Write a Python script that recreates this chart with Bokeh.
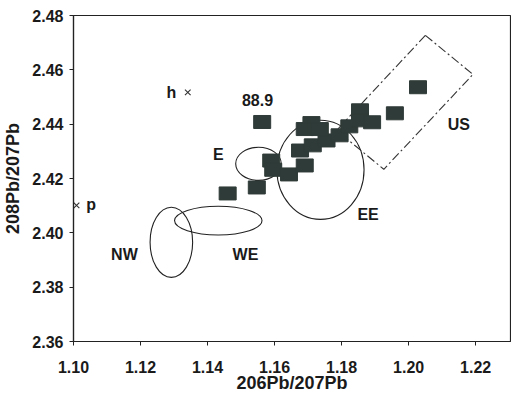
from bokeh.plotting import figure
from bokeh.models import Range1d
from bokeh.models import FixedTicker, NumeralTickFormatter
from bokeh.core.properties import value
from bokeh.embed import file_html
from bokeh.resources import INLINE

# ---- data ----
sq_x = [1.2028, 1.1959, 1.1563, 1.1460, 1.1547, 1.1590, 1.1596, 1.1643, 1.1690,
        1.1676, 1.1714, 1.1755, 1.1794, 1.1823, 1.1855, 1.1855, 1.1891,
        1.1710, 1.1690, 1.1735]
sq_y = [2.4536, 2.4440, 2.4408, 2.4145, 2.4167, 2.4266, 2.4232, 2.4215, 2.4248,
        2.4303, 2.4322, 2.4340, 2.4359, 2.4392, 2.4451, 2.4414, 2.4407,
        2.4404, 2.4382, 2.4382]

ell_names = ["E", "NW", "WE", "EE"]
ell_x = [1.1552, 1.1292, 1.1432, 1.1737]
ell_y = [2.4254, 2.3965, 2.4045, 2.4232]
ell_w = [0.0136, 0.0127, 0.0261, 0.0260]
ell_h = [0.0122, 0.0258, 0.0106, 0.0365]

us_x = [1.2050, 1.2192, 1.1926, 1.1785, 1.2050]
us_y = [2.4727, 2.4583, 2.4234, 2.4377, 2.4727]

cross_names = ["h", "p"]
cross_x = [1.1341, 1.1009]
cross_y = [2.4517, 2.4101]

x_ticks = [1.10, 1.12, 1.14, 1.16, 1.18, 1.20, 1.22]
y_ticks = [2.36, 2.38, 2.40, 2.42, 2.44, 2.46, 2.48]

label_text = ["88.9", "E", "NW", "WE", "EE", "US", "h", "p"]
label_x = [1.1549, 1.1432, 1.1152, 1.1513, 1.1879, 1.2150, 1.1292, 1.1053]
label_y = [2.4488, 2.4289, 2.3922, 2.3922, 2.4066, 2.4399, 2.4517, 2.4105]

x_title = "206Pb/207Pb"
y_title = "208Pb/207Pb"

FONT = "Liberation Sans"

p = figure(width=511, height=396, output_backend="svg", toolbar_location=None,
           x_range=Range1d(1.10, 1.2304), y_range=Range1d(2.36, 2.48),
           min_border_left=69, min_border_right=1, min_border_top=15,
           min_border_bottom=55, x_axis_label=x_title, y_axis_label=y_title)
p.grid.visible = False
p.outline_line_color = "#222222"
p.outline_line_width = 1.2
p.background_fill_color = "white"
p.border_fill_color = "white"

for ax, ticks in ((p.xaxis[0], x_ticks), (p.yaxis[0], y_ticks)):
    ax.ticker = FixedTicker(ticks=ticks)
    ax.formatter = NumeralTickFormatter(format="0.00")
    ax.major_tick_in = 0
    ax.major_tick_out = 4
    ax.minor_tick_line_color = None
    ax.axis_line_color = "#222222"
    ax.axis_line_width = 1.2
    ax.major_tick_line_color = "#222222"
    ax.major_label_text_font = FONT
    ax.major_label_text_font_size = "16px"
    ax.major_label_text_font_style = "bold"
    ax.major_label_text_color = "#1a1a1a"
    ax.axis_label_text_font = FONT
    ax.axis_label_text_font_size = "18px"
    ax.axis_label_text_font_style = "bold"
    ax.axis_label_text_color = "#1a1a1a"
p.xaxis.major_label_standoff = 15
p.yaxis.major_label_standoff = 6
p.xaxis.axis_label_standoff = -3
p.yaxis.axis_label_standoff = 6

# ellipses
p.ellipse(x=ell_x, y=ell_y, width=ell_w, height=ell_h, fill_color=None,
          line_color="#222222", line_width=1.1)

# US field (dash-dot)
p.line(us_x, us_y, line_color="#333333", line_width=1.1, line_dash="9 3 2 3")

# squares
p.rect(x=sq_x, y=sq_y, width=17, height=13, width_units="screen",
       height_units="screen", fill_color="#2f3b38", line_color="#2f3b38")

# crosses
p.scatter(x=cross_x, y=cross_y, marker="x", size=8, line_color="#333333",
          line_width=1.1)

# labels
p.text(x=label_x, y=label_y, text=label_text, text_font=value(FONT),
       text_font_size="16px", text_font_style="bold", text_color="#1a1a1a",
       text_align="center", text_baseline="middle")

open("out.html", "w").write(file_html(p, INLINE))
